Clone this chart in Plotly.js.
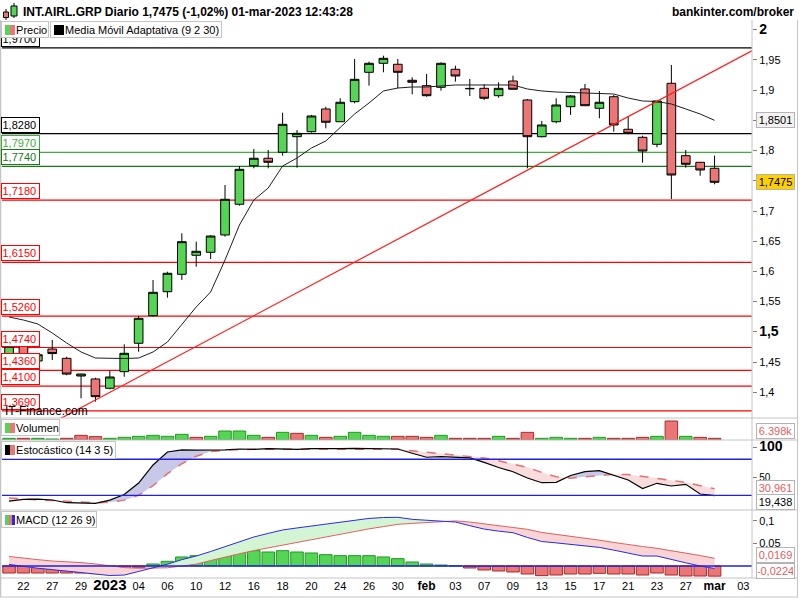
<!DOCTYPE html>
<html><head><meta charset="utf-8">
<script src="https://cdn.plot.ly/plotly-3.0.1.min.js"></script>
<style>html,body{margin:0;padding:0;background:#fff}#chart{width:800px;height:600px}</style>
</head><body><div id="chart"></div>
<script>
// ---------- DATA ----------
const dates = ['2022-12-21','2022-12-22','2022-12-23','2022-12-27','2022-12-28','2022-12-29','2022-12-30',
 '2023-01-02','2023-01-03','2023-01-04','2023-01-05','2023-01-06','2023-01-09','2023-01-10','2023-01-11','2023-01-12','2023-01-13',
 '2023-01-16','2023-01-17','2023-01-18','2023-01-19','2023-01-20','2023-01-23','2023-01-24','2023-01-25','2023-01-26','2023-01-27',
 '2023-01-30','2023-01-31','2023-02-01','2023-02-02','2023-02-03','2023-02-06','2023-02-07','2023-02-08','2023-02-09','2023-02-10',
 '2023-02-13','2023-02-14','2023-02-15','2023-02-16','2023-02-17','2023-02-20','2023-02-21','2023-02-22','2023-02-23','2023-02-24',
 '2023-02-27','2023-02-28','2023-03-01','2023-03-02','2023-03-03'];
const tickDates = ['2022-12-22','2022-12-27','2022-12-29','2023-01-02','2023-01-04','2023-01-06','2023-01-10','2023-01-12','2023-01-16',
 '2023-01-18','2023-01-20','2023-01-24','2023-01-26','2023-01-30','2023-02-01','2023-02-03','2023-02-07','2023-02-09','2023-02-13',
 '2023-02-15','2023-02-17','2023-02-21','2023-02-23','2023-02-27','2023-03-01','2023-03-03'];
const tickLabels = ['22','27','29','<span style="font-size:15px"><b>2023</b></span>','04','06','10','12','16','18','20','24','26','30',
 '<span style="font-size:12px"><b>feb</b></span>','03','07','09','13','15','17','21','23','27','<span style="font-size:12px"><b>mar</b></span>','03'];
const priceTickVals = [1.4,1.45,1.5,1.55,1.6,1.65,1.7,1.75,1.8,1.85,1.9,1.95,2];
const priceTickText = ['1,4','1,45','<span style="font-size:14px"><b>1,5</b></span>','1,55','1,6','1,65','1,7','','1,8','','1,9','1,95',
 '<span style="font-size:14px"><b>2</b></span>'];

const open  = [1.4640,1.4770,1.4517,1.4715,1.4561,1.4268,1.4219,1.4065,1.4340,1.4810,1.5267,1.5664,1.5952,1.6267,1.6316,1.6603,1.7111,
 1.7750,1.7873,1.7972,1.8230,1.8313,1.8689,1.8478,1.8810,1.9296,1.9445,1.9429,1.9164,1.9075,1.9048,1.9346,1.9030,1.9031,1.8909,1.9152,
 1.8838,1.8230,1.8478,1.8727,1.9020,1.8700,1.8892,1.8353,1.8220,1.8104,1.9114,1.7916,1.7806,1.7707];
const high  = [1.4800,1.4800,1.4640,1.4864,1.4588,1.4305,1.4240,1.4356,1.4793,1.5262,1.5857,1.5995,1.6631,1.6492,1.6600,1.7430,1.7745,
 1.8026,1.8010,1.8627,1.8340,1.8590,1.8727,1.8866,1.9517,1.9472,1.9571,1.9517,1.9214,1.9268,1.9460,1.9406,1.9185,1.9098,1.9131,1.9240,
 1.8854,1.8490,1.8866,1.8920,1.9103,1.8987,1.8920,1.8573,1.8247,1.8821,1.9417,1.8010,1.7810,1.7916];
const low   = [1.4580,1.4560,1.4480,1.4533,1.4280,1.3899,1.3843,1.4048,1.4257,1.4670,1.5250,1.5565,1.5858,1.6078,1.6205,1.6575,1.7088,
 1.7707,1.7707,1.7916,1.7717,1.8296,1.8369,1.8478,1.8783,1.9075,1.9296,1.9031,1.8932,1.8892,1.8992,1.9141,1.8904,1.8838,1.8876,1.9015,
 1.7707,1.8220,1.8452,1.8590,1.8743,1.8535,1.8313,1.8270,1.7800,1.8055,1.7199,1.7717,1.7584,1.7442];
const close = [1.4760,1.4600,1.4620,1.4640,1.4300,1.4301,1.3926,1.4252,1.4644,1.5224,1.5654,1.5969,1.6492,1.6333,1.6586,1.7194,1.7690,
 1.7873,1.7806,1.8435,1.8286,1.8573,1.8469,1.8800,1.9180,1.9445,1.9528,1.9296,1.9131,1.8909,1.9445,1.9235,1.9025,1.8866,1.9031,1.9015,
 1.8230,1.8424,1.8755,1.8904,1.8743,1.8800,1.8424,1.8286,1.7993,1.8821,1.7596,1.7773,1.7679,1.7475];
const ama = [1.5245,1.5195,1.5129,1.4980,1.4815,1.4666,1.4566,1.4558,1.4558,1.4566,1.4666,1.4831,1.5113,1.5411,1.5659,1.6189,1.6768,
 1.7182,1.7381,1.7745,1.7877,1.8043,1.8159,1.8391,1.8606,1.8788,1.8987,1.9036,1.9053,1.9053,1.9070,1.9086,1.9086,1.9086,1.9086,1.9086,
 1.9020,1.8987,1.8970,1.8962,1.8954,1.8945,1.8937,1.8870,1.8821,1.8813,1.8771,1.8689,1.8606,1.8501];
const trendIdx = [0, 52];
const trendVal = [1.3111, 1.9704];
const levelVals  = [1.9700,1.8280,1.7970,1.7740,1.7180,1.6150,1.5260,1.4740,1.4360,1.4100,1.3690];
const levelTexts = ['1,9700','1,8280','1,7970','1,7740','1,7180','1,6150','1,5260','1,4740','1,4360','1,4100','1,3690'];
const levelColors = ['#000000','#000000','#3cb03c','#177a17','#ff0000','#ff0000','#ff0000','#ff0000','#ff0000','#ff0000','#ff0000'];

const volume = [6.3,6.3,6.3,3.8,6.3,17.7,12.7,6.3,10.1,13.9,17.7,13.9,21.5,10.1,13.9,34.2,34.2,17.7,10.1,29.1,25.3,17.7,10.1,13.9,29.1,
 17.7,13.9,13.9,13.9,10.1,17.7,6.3,6.3,6.3,13.9,6.3,29.1,6.3,10.1,6.3,6.3,10.1,6.3,6.3,10.1,13.9,72.2,13.9,10.1,6.398];
const volDir = [1,-1,1,1,-1,-1,-1,1,1,1,1,1,1,-1,1,1,1,1,-1,1,-1,1,-1,1,1,1,1,-1,-1,-1,1,-1,-1,-1,1,-1,-1,1,1,1,-1,1,-1,-1,-1,1,-1,1,-1,-1];

const stochK = [10.5,13.3,13.8,12.2,7.7,7.2,6.7,12,21.3,40.5,70.5,92,95.5,95,94.7,95.5,97,96.5,97.5,97,96.5,97.5,97,97.5,98,97.5,98,97,
 90,83.3,84.3,83.8,82.2,74.7,66.3,59.3,48.8,41,41.7,53,59.3,61,53.8,45.5,31.3,40,35.5,38.3,22.2,19.438];
const stochD = [15.5,13.5,12.5,11.5,10,8.5,7.5,8.5,12,20,36,56,72.5,85,93,95,96,96.5,96.5,96.5,96.5,96.5,97,97,97,97.5,97.5,96.5,
 94,91.5,89.5,87.5,85,82,77.5,72.5,66.5,58,51,48.5,51,53,55,54.5,51.5,49,45,41.5,36,30.961];

const macd = [0.0035,-0.0015,-0.005,-0.008,-0.011,-0.0145,-0.018,-0.021,-0.020,-0.012,-0.003,0.004,0.014,0.022,0.032,0.043,0.053,
 0.064,0.072,0.0795,0.084,0.088,0.092,0.097,0.101,0.105,0.107,0.1075,0.103,0.1005,0.099,0.097,0.089,0.0815,0.077,0.0735,
 0.063,0.054,0.051,0.048,0.044,0.041,0.035,0.029,0.022,0.022,0.014,0.007,0.000,-0.0055];
const signal = [0.021,0.017,0.014,0.011,0.0095,0.0075,0.0045,0.0005,-0.0035,-0.005,-0.005,-0.004,0.000,0.004,0.012,0.020,0.027,
 0.034,0.040,0.046,0.052,0.059,0.065,0.071,0.077,0.082,0.087,0.092,0.094,0.096,0.098,0.0995,0.097,0.093,0.089,0.085,
 0.081,0.074,0.070,0.066,0.061,0.057,0.052,0.047,0.043,0.039,0.034,0.029,0.023,0.0169];
const hist = [-0.0155,-0.0155,-0.0155,-0.0155,-0.0155,-0.0155,-0.0169,-0.0132,-0.0096,-0.0029,0.0044,0.0103,0.0199,0.0228,0.0228,
 0.0265,0.0309,0.0338,0.0309,0.0338,0.0309,0.0287,0.025,0.0228,0.0228,0.0228,0.0199,0.0162,0.0088,0.0044,0.0022,0.0005,
 -0.0044,-0.0088,-0.011,-0.0132,-0.0177,-0.0213,-0.0199,-0.0177,-0.0177,-0.0162,-0.0177,-0.0177,-0.0199,-0.0155,-0.0199,-0.0221,-0.0221,-0.0224];

// ---------- BUILD ----------
const N = close.length;
const xs = dates.slice(0, N).map((d, i) => i);
const tickvals = tickDates.map(d => dates.indexOf(d));
const GREEN = '#55d455', RED = '#ec7676';

function band(x, a, b, cUp, cDn, yax) {
  const out = []; let seg = {x: [], a: [], b: [], s: null};
  const push = s => { if (s.x.length > 1) out.push({type: 'scatter', mode: 'none', x: s.x.concat(s.x.slice().reverse()),
    y: s.a.concat(s.b.slice().reverse()), fill: 'toself', fillcolor: s.s > 0 ? cUp : cDn, yaxis: yax, hoverinfo: 'skip'}); };
  for (let i = 0; i < x.length; i++) {
    const d = a[i] - b[i], s = d >= 0 ? 1 : -1;
    if (seg.s === null) seg.s = s;
    else if (s !== seg.s) {
      const dp = a[i-1] - b[i-1], t = dp / (dp - d);
      const xc = x[i-1] + t * (x[i] - x[i-1]), yc = a[i-1] + t * (a[i] - a[i-1]);
      seg.x.push(xc); seg.a.push(yc); seg.b.push(yc); push(seg);
      seg = {x: [xc], a: [yc], b: [yc], s: s};
    }
    seg.x.push(x[i]); seg.a.push(a[i]); seg.b.push(b[i]);
  }
  push(seg); return out;
}

const traces = [];
traces.push({type: 'candlestick', x: xs, open: open, high: high, low: low, close: close, yaxis: 'y',
  increasing: {line: {color: '#000', width: 1}, fillcolor: GREEN},
  decreasing: {line: {color: '#000', width: 1}, fillcolor: RED}, whiskerwidth: 0, hoverinfo: 'skip'});
traces.push({type: 'scatter', mode: 'lines', x: xs, y: ama, yaxis: 'y', line: {color: '#1e1e1e', width: 1}, hoverinfo: 'skip'});
traces.push({type: 'scatter', mode: 'lines', x: trendIdx, y: trendVal, yaxis: 'y', line: {color: '#ff2020', width: 1.2}, hoverinfo: 'skip'});
// volume
traces.push({type: 'bar', x: xs, y: volume, yaxis: 'y2', hoverinfo: 'skip',
  marker: {color: volDir.map(d => d > 0 ? GREEN : RED), line: {color: volDir.map(d => d > 0 ? '#1f9a1f' : '#a82a2a'), width: 1}}});
// stochastic
band(xs, stochK, stochD, '#c8c8e8', '#f9dcdc', 'y3').forEach(t => traces.push(t));
traces.push({type: 'scatter', mode: 'lines', x: xs, y: stochD, yaxis: 'y3', line: {color: '#e47070', width: 1.5, dash: 'dash'}, hoverinfo: 'skip'});
traces.push({type: 'scatter', mode: 'lines', x: xs, y: stochK, yaxis: 'y3', line: {color: '#000', width: 1.2}, hoverinfo: 'skip'});
// macd
band(xs, macd, signal, '#d3f5d3', '#f8d4d4', 'y4').forEach(t => traces.push(t));
traces.push({type: 'bar', x: xs, y: hist, yaxis: 'y4', hoverinfo: 'skip',
  marker: {color: hist.map(v => v >= 0 ? GREEN : RED), line: {color: hist.map(v => v >= 0 ? '#1f9a1f' : '#a82a2a'), width: 1}}});
traces.push({type: 'scatter', mode: 'lines', x: xs, y: signal, yaxis: 'y4', line: {color: '#e06060', width: 1}, hoverinfo: 'skip'});
traces.push({type: 'scatter', mode: 'lines', x: xs, y: macd, yaxis: 'y4', line: {color: '#2a2ae6', width: 1}, hoverinfo: 'skip'});
traces.forEach(t => { t.showlegend = false; });

// pixel helpers (layout positions only)
const P = x => (x - 2) / 750, Q = y => (578 - y) / 558;
function boxAnn(x, y, w, h, text, o) {
  o = o || {};
  const bw = o.borderwidth != null ? o.borderwidth : 1, pad = o.borderpad != null ? o.borderpad : 0;
  return Object.assign({xref: 'paper', yref: 'paper', x: P(x), y: Q(y), xanchor: 'left', yanchor: 'top', showarrow: false,
    text: text, width: Math.max(1, w - 2*bw - 2*pad), height: Math.max(1, h - 2*bw - 2*pad), borderwidth: bw, borderpad: pad,
    align: 'left', valign: 'middle'}, o);
}
function rectAnn(x, y, w, h, color) { return boxAnn(x, y, w, h, '\u00a0', {bgcolor: color, borderwidth: 0, borderpad: 0}); }
function txtAnn(x, yc, text, o) { return Object.assign({xref: 'paper', yref: 'paper', x: P(x), y: Q(yc), xanchor: 'left', yanchor: 'middle', showarrow: false, text: text}, o || {}); }

const shapes = [];
levelVals.forEach((v, i) => shapes.push({type: 'line', xref: 'paper', yref: 'y', x0: 0, x1: 1, y0: v, y1: v, layer: 'below',
  line: {color: levelColors[i], width: 1.2}}));
shapes.push({type: 'line', xref: 'paper', yref: 'y3', x0: 0, x1: 1, y0: 80, y1: 80, layer: 'above', line: {color: '#2020e0', width: 1.3}});
shapes.push({type: 'line', xref: 'paper', yref: 'y3', x0: 0, x1: 1, y0: 20, y1: 20, layer: 'above', line: {color: '#2020e0', width: 1.3}});
shapes.push({type: 'line', xref: 'paper', yref: 'y4', x0: 0, x1: 1, y0: 0, y1: 0, layer: 'above', line: {color: '#2020e0', width: 1.3}});
const GR = '#c4c4c4';
[418, 440, 510, 578].forEach(y => shapes.push({type: 'line', xref: 'paper', yref: 'paper', x0: P(0), x1: P(798), y0: Q(y), y1: Q(y), line: {color: GR, width: 1}}));
shapes.push({type: 'line', xref: 'paper', yref: 'paper', x0: P(752), x1: P(752), y0: Q(20), y1: Q(578), line: {color: GR, width: 1}});
shapes.push({type: 'line', xref: 'paper', yref: 'paper', x0: P(0.5), x1: P(0.5), y0: Q(20), y1: Q(597), line: {color: GR, width: 1.5}});
shapes.push({type: 'line', xref: 'paper', yref: 'paper', x0: P(797.5), x1: P(797.5), y0: Q(20), y1: Q(597), line: {color: GR, width: 1}});
shapes.push({type: 'line', xref: 'paper', yref: 'paper', x0: P(0), x1: P(798), y0: Q(597), y1: Q(597), line: {color: GR, width: 1}});
// header candle icon
shapes.push({type: 'line', xref: 'paper', yref: 'paper', x0: P(6), x1: P(6), y0: Q(9), y1: Q(20), line: {color: '#000', width: 1}});
shapes.push({type: 'rect', xref: 'paper', yref: 'paper', x0: P(3.5), x1: P(8.5), y0: Q(12), y1: Q(17.5), fillcolor: RED, line: {color: '#000', width: 1}});
shapes.push({type: 'line', xref: 'paper', yref: 'paper', x0: P(14), x1: P(14), y0: Q(3), y1: Q(18), line: {color: '#000', width: 1}});
shapes.push({type: 'rect', xref: 'paper', yref: 'paper', x0: P(11), x1: P(17), y0: Q(6), y1: Q(16), fillcolor: GREEN, line: {color: '#000', width: 1}});

const annotations = [];
levelVals.forEach((v, i) => annotations.push({xref: 'paper', yref: 'y', x: 0, y: v, xanchor: 'left', yanchor: 'bottom', xshift: -1, yshift: 1,
  showarrow: false, text: levelTexts[i], font: {color: levelColors[i], size: 11}, bgcolor: '#fff', bordercolor: levelColors[i],
  borderwidth: 1, borderpad: 0.5, width: 36, height: 13, align: 'left', valign: 'middle'}));
annotations.push(txtAnn(3, 411, 'IT-Finance.com', {font: {size: 12, color: '#000'}}));
// header
annotations.push(txtAnn(21, 12, '<b>INT.AIRL.GRP Diario 1,7475 (-1,02%) 01-mar-2023 12:43:28</b>', {font: {size: 12}}));
annotations.push({xref: 'paper', yref: 'paper', x: P(796), y: Q(12), xanchor: 'right', yanchor: 'middle', showarrow: false,
  text: '<b>bankinter.com/broker</b>', font: {size: 12}});
// legend boxes
const LB = {bgcolor: '#fff', bordercolor: '#c4c4c4'};
annotations.push(boxAnn(1, 21, 48, 17, '\u2003\u00a0Precio', LB));
annotations.push(rectAnn(5, 25, 5, 10, GREEN)); annotations.push(rectAnn(10, 25, 5, 10, RED));
annotations.push(boxAnn(50, 21, 172, 17, '\u2003\u00a0Media Móvil Adaptativa (9 2 30)', LB));
annotations.push(rectAnn(54, 25, 10, 10, '#000'));
annotations.push(boxAnn(1, 419, 59, 17, '\u2003\u00a0Volumen', LB));
annotations.push(rectAnn(5, 423, 5, 10, GREEN)); annotations.push(rectAnn(10, 423, 5, 10, RED));
annotations.push(boxAnn(1, 441, 115, 18, '\u2003\u00a0Estocástico (14 3 5)', LB));
annotations.push(rectAnn(5, 445, 5, 10, '#000')); annotations.push(rectAnn(10, 445, 5, 10, RED));
annotations.push(boxAnn(1, 511, 96, 17, '\u2003\u00a0MACD (12 26 9)', LB));
annotations.push(rectAnn(5, 515, 4, 10, GREEN)); annotations.push(rectAnn(9, 515, 3, 10, RED)); annotations.push(rectAnn(12, 515, 3, 10, '#2a2ae6'));
// right value boxes
function valBox(yref, val, text, shift, bg, col) {
  return {xref: 'paper', yref: yref, x: 1, y: val, xanchor: 'left', yanchor: 'middle', xshift: 4, yshift: shift, showarrow: false,
    text: text, font: {size: 11, color: col}, bgcolor: bg, bordercolor: '#b4b4b4', borderwidth: 1, borderpad: 1, width: 35, height: 12};
}
const fmt = (v, d) => v.toFixed(d).replace('.', ',');
annotations.push(valBox('y', ama[N-1], fmt(ama[N-1], 4), 0, '#f2f2f2', '#000'));
annotations.push(valBox('y', close[N-1], fmt(close[N-1], 4), 0, '#ffd000', '#000'));
annotations.push(valBox('y2', volume[N-1], volume[N-1].toFixed(3) + 'k', 7, '#fff', '#e06060'));
annotations.push(valBox('y3', stochD[N-1], fmt(stochD[N-1], 3), 0.5, '#fff', '#e06060'));
annotations.push(valBox('y3', stochK[N-1], fmt(stochK[N-1], 3), -6, '#fff', '#000'));
annotations.push(valBox('y4', signal[N-1], fmt(signal[N-1], 4), 3, '#fff', '#e06060'));
annotations.push(valBox('y4', hist[N-1], fmt(hist[N-1], 4), 5, '#fff', '#e06060'));

const yCommon = {anchor: 'x', side: 'right', showgrid: false, zeroline: false, showline: false, ticks: 'outside', ticklen: 4,
  tickcolor: '#808080', tickfont: {size: 11, color: '#000'}, fixedrange: true};
const layout = {
  width: 800, height: 600, margin: {l: 2, r: 48, t: 20, b: 22}, paper_bgcolor: '#fff', plot_bgcolor: '#fff',
  font: {family: 'Liberation Sans, Arial, sans-serif', size: 11, color: '#000'},
  showlegend: false, boxgap: 0.14, bargap: 0.13, dragmode: false, hovermode: false,
  xaxis: {anchor: 'y4', range: [-0.49, 51.6], showgrid: false, zeroline: false, showline: false, ticks: '',
    tickvals: tickvals, ticktext: tickLabels, tickfont: {size: 11}, tickangle: 0, fixedrange: true, rangeslider: {visible: false}},
  yaxis: Object.assign({}, yCommon, {domain: [Q(418), 1], range: [1.3573, 2.0162], tickvals: priceTickVals, ticktext: priceTickText}),
  yaxis2: Object.assign({}, yCommon, {domain: [Q(440), Q(418)], range: [0, 83.6], showticklabels: false, ticks: ''}),
  yaxis3: Object.assign({}, yCommon, {domain: [Q(510), Q(440)], range: [-4.4, 112], tickvals: [50, 100],
    ticktext: ['<span style="font-size:10px">50</span>', '<span style="font-size:14px"><b>100</b></span>']}),
  yaxis4: Object.assign({}, yCommon, {domain: [0, Q(510)], range: [-0.0265, 0.1236], tickvals: [0.05, 0.1], ticktext: ['0,05', '0,1']}),
  shapes: shapes, annotations: annotations
};
Plotly.newPlot('chart', traces, layout, {staticPlot: true, displayModeBar: false});
</script></body></html>
